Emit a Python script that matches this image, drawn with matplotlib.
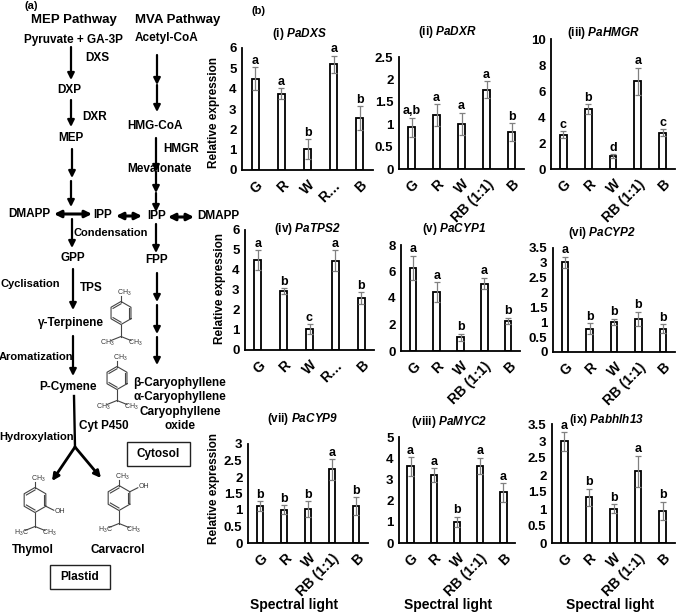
import numpy as np
import matplotlib
matplotlib.use('Agg')
import matplotlib.pyplot as plt
from matplotlib.patches import Rectangle
from matplotlib.transforms import ScaledTranslation

W, H = 676, 613
plt.rcParams['font.family'] = ['Liberation Sans', 'DejaVu Sans']
plt.rcParams['font.weight'] = 'bold'
plt.rcParams['mathtext.fontset'] = 'custom'
plt.rcParams['mathtext.bfit'] = 'Liberation Sans:italic:bold'
plt.rcParams['mathtext.default'] = 'regular'

full_labels = ['G', 'R', 'W', 'RB (1:1)', 'B']
short_labels = ['G', 'R', 'W', 'R…', 'B']

# expression values
dxs = [4.49, 3.75, 1.03, 5.2, 2.55]
dxs_err = [0.57, 0.28, 0.48, 0.43, 0.58]
dxs_let = ['a', 'a', 'b', 'a', 'b']
dxr = [0.93, 1.2, 1.01, 1.77, 0.82]
dxr_err = [0.21, 0.25, 0.25, 0.19, 0.2]
dxr_let = ['a,b', 'a', 'a', 'a', 'b']
hmgr = [2.65, 4.6, 1.0, 6.75, 2.8]
hmgr_err = [0.26, 0.38, 0.15, 1.05, 0.26]
hmgr_let = ['c', 'b', 'd', 'a', 'c']
tps2 = [4.5, 2.93, 1.03, 4.47, 2.58]
tps2_err = [0.48, 0.15, 0.25, 0.53, 0.3]
tps2_let = ['a', 'b', 'c', 'a', 'b']
cyp1 = [6.28, 4.43, 1.04, 5.09, 2.28]
cyp1_err = [0.91, 0.76, 0.25, 0.43, 0.23]
cyp1_let = ['a', 'a', 'b', 'a', 'b']
cyp2 = [3.02, 0.79, 1.02, 1.11, 0.78]
cyp2_err = [0.18, 0.17, 0.1, 0.24, 0.15]
cyp2_let = ['a', 'b', 'b', 'b', 'b']
cyp9 = [1.12, 1.01, 1.02, 2.23, 1.12]
cyp9_err = [0.14, 0.13, 0.24, 0.31, 0.27]
cyp9_let = ['b', 'b', 'b', 'a', 'b']
myc2 = [3.61, 3.21, 1.0, 3.64, 2.39]
myc2_err = [0.44, 0.32, 0.24, 0.38, 0.44]
myc2_let = ['a', 'a', 'b', 'a', 'a']
bhlh = [2.99, 1.34, 1.01, 2.11, 0.95]
bhlh_err = [0.27, 0.25, 0.13, 0.46, 0.27]
bhlh_let = ['a', 'b', 'b', 'a', 'b']

fig = plt.figure(figsize=(W / 100, H / 100), dpi=100)

# overlay in pixel coordinates for panel (a) and loose text
bg = fig.add_axes([0, 0, 1, 1])
bg.set_xlim(0, W)
bg.set_ylim(H, 0)
bg.axis('off')


def txt(x, y, s, size=8.5, **kw):
    bg.text(x, y, s, fontsize=size, ha='center', va='center', **kw)


def arrow(x0, y0, x1, y1, lw=1.6, style='-|>'):
    bg.annotate('', xy=(x1, y1), xytext=(x0, y0),
                arrowprops=dict(arrowstyle=style, color='k', lw=lw, shrinkA=0, shrinkB=0,
                                mutation_scale=10))


def molecule(cx, cy, top, bottom, oh=None, r=11.5, stem=10):
    # ring with methyl on top and isopropyl at the bottom
    ang = np.radians(np.arange(30, 390, 60))
    px = cx + r * np.cos(ang)
    py = cy + r * np.sin(ang)
    bg.plot(np.r_[px, px[0]], np.r_[py, py[0]], color='#444444', lw=0.8)
    for i in [1, 3, 5]:
        j = (i + 1) % 6
        bg.plot([cx + (px[i] - cx) * 0.8, cx + (px[j] - cx) * 0.8],
                [cy + (py[i] - cy) * 0.8, cy + (py[j] - cy) * 0.8], color='#444444', lw=0.8)
    bg.plot([cx, cx], [cy - r, cy - r - 6], color='#444444', lw=0.8)
    node = cy + r + stem
    bg.plot([cx, cx], [cy + r, node], color='#444444', lw=0.8)
    bg.plot([cx - 10, cx, cx + 10], [node + 4, node, node + 4], color='#444444', lw=0.8)
    txt(cx + 3, cy - r - 9, top, size=5, weight='normal', color='#333333')
    txt(cx - 14, node + 6, bottom[0], size=5, weight='normal', color='#333333')
    txt(cx + 14, node + 6, bottom[1], size=5, weight='normal', color='#333333')
    if oh is not None:
        bg.plot([px[oh], px[oh] + 8], [py[oh], py[oh] - 4 if oh == 5 else py[oh] + 4],
                color='#444444', lw=0.8)
        txt(px[oh] + 14, py[oh] - 5 if oh == 5 else py[oh] + 5, 'OH', size=5, weight='normal', color='#333333')


txt(31, 6, '(a)', size=8)
txt(258, 11, '(b)', size=8)
txt(74, 20, 'MEP Pathway', size=9.5)
txt(178, 20, 'MVA Pathway', size=9.5)
pathway_text = [(73, 40, 'Pyruvate + GA-3P'), (167, 38, 'Acetyl-CoA'), (97, 58, 'DXS'), (69, 90, 'DXP'),
                (95, 117, 'DXR'), (71, 138, 'MEP'), (155, 126, 'HMG-CoA'), (181, 149, 'HMGR'),
                (159, 169, 'Mevalonate'), (29, 214, 'DMAPP'), (103, 215, 'IPP'), (157, 216, 'IPP'),
                (218, 216, 'DMAPP'), (111, 233, 'Condensation'), (73, 258, 'GPP'), (157, 260, 'FPP'),
                (30, 284, 'Cyclisation'), (91, 288, 'TPS'), (71, 323, 'γ-Terpinene'),
                (36, 357, 'Aromatization'), (68, 387, 'P-Cymene'), (180, 383, 'β-Caryophyllene'),
                (180, 397, 'α-Caryophyllene'), (180, 412, 'Caryophyllene'), (180, 426, 'oxide'),
                (104, 426, 'Cyt P450'), (37, 437, 'Hydroxylation'), (33, 550, 'Thymol'), (118, 550, 'Carvacrol')]
for x, y, s in pathway_text:
    txt(x, y, s, size=8 if s in ('Condensation', 'Cyclisation', 'Aromatization', 'Hydroxylation') else 8.5)

down_arrows = [(71, 47, 80), (71, 100, 127), (72, 149, 178), (71, 181, 207), (157, 55, 85), (157, 85, 112),
               (156, 138, 172), (156, 172, 193), (156, 193, 212), (72, 219, 248), (156, 224, 253),
               (73, 269, 310), (157, 273, 302), (157, 305, 334), (157, 337, 365), (73, 336, 376)]
for x, y0, y1 in down_arrows:
    arrow(x, y0, x, y1)
arrow(54, 214, 92, 214, lw=2.2, style='<|-|>')
arrow(116, 216, 142, 216, lw=2.2, style='<|-|>')
arrow(168, 217, 194, 217, lw=2.2, style='<|-|>')
bg.plot([74, 75], [396, 447], color='k', lw=1.7)
arrow(75, 447, 52, 481, lw=2)
arrow(75, 447, 101, 478, lw=2)

molecule(121, 313, 'CH$_3$', ('CH$_3$', 'CH$_3$'), stem=12)
molecule(117, 378, 'CH$_3$', ('CH$_3$', 'CH$_3$'), stem=11)
molecule(35, 500, 'CH$_3$', ('H$_3$C', 'CH$_3$'), oh=0, r=12.5, stem=14)
molecule(119, 498, 'CH$_3$', ('H$_3$C', 'CH$_3$'), oh=5, r=12.5, stem=13)

for x0, y0, x1, y1, s in [(127, 442, 190, 466, 'Cytosol'), (50, 565, 110, 589, 'Plastid')]:
    bg.add_patch(Rectangle((x0, y0), x1 - x0, y1 - y0, fc='w', ec='#222222', lw=1))
    txt((x0 + x1) / 2, (y0 + y1) / 2, s, size=8.5)


def panel(box, vals, errs, lets, ymax, step, title, title_xy, labels, ylabel_xy=None):
    left, right, top, base = box
    ax = fig.add_axes([left / W, 1 - base / H, (right - left) / W, (base - top) / H])
    ax.patch.set_alpha(0)
    x = np.arange(5)
    ax.bar(x, vals, width=0.27, fc='w', ec='k', lw=1.3, zorder=2)
    ax.errorbar(x, vals, yerr=errs, fmt='none', ecolor='#808080', elinewidth=0.9, capsize=2.2,
                capthick=0.9, zorder=3)
    for i in range(5):
        ax.annotate(lets[i], (i, vals[i] + errs[i]), xytext=(0, 2.5), textcoords='offset points',
                    ha='center', va='baseline', fontsize=9, annotation_clip=False)
    ax.set_xlim(-0.5, 4.5)
    ax.set_ylim(0, ymax)
    yt = np.arange(0, ymax + step / 2, step)
    ax.set_yticks(yt)
    ax.set_yticklabels(['%g' % v for v in yt], fontsize=9.5)
    ax.set_xticks(x)
    ax.set_xticklabels(labels, fontsize=10, rotation=45, ha='right', va='top', rotation_mode='anchor')
    for t in ax.get_xticklabels():
        # truncated labels sit further right than the full ones
        dx = 10 if t.get_text().endswith('…') else -1.5
        t.set_transform(t.get_transform() + ScaledTranslation(dx / 72, 0, fig.dpi_scale_trans))
    ax.tick_params(length=0)
    ax.tick_params(axis='y', pad=4)
    ax.tick_params(axis='x', pad=6)
    ax.spines['top'].set_visible(False)
    ax.spines['right'].set_visible(False)
    ax.spines['left'].set_linewidth(1.3)
    ax.spines['bottom'].set_linewidth(1.3)
    txt(title_xy[0], title_xy[1], title, size=8.5)
    if ylabel_xy is not None:
        txt(ylabel_xy[0], ylabel_xy[1], 'Relative expression', size=8.5, rotation=90)


panel((242, 373, 48, 170), dxs, dxs_err, dxs_let, 6, 1, r'(i) $\mathbfit{PaDXS}$', (299, 34), short_labels, (214, 112))
panel((399, 524, 57, 169), dxr, dxr_err, dxr_let, 2.5, 0.5, r'(ii) $\mathbfit{PaDXR}$', (447, 32), full_labels)
panel((551, 675, 39, 169), hmgr, hmgr_err, hmgr_let, 10, 2, r'(iii) $\mathbfit{PaHMGR}$', (604, 33), full_labels)
panel((245, 374, 230, 350), tps2, tps2_err, tps2_let, 6, 1, r'(iv) $\mathbfit{PaTPS2}$', (307, 229), short_labels, (220, 289))
panel((401, 520, 245, 351), cyp1, cyp1_err, cyp1_let, 8, 2, r'(v) $\mathbfit{PaCYP1}$', (454, 229), full_labels)
panel((553, 675, 248, 352), cyp2, cyp2_err, cyp2_let, 3.5, 0.5, r'(vi) $\mathbfit{PaCYP2}$', (602, 233), full_labels)
panel((248, 368, 444, 543), cyp9, cyp9_err, cyp9_let, 3, 0.5, r'(vii) $\mathbfit{PaCYP9}$', (303, 419), full_labels, (214, 489))
panel((399, 515, 437, 543), myc2, myc2_err, myc2_let, 5, 1, r'(viii) $\mathbfit{PaMYC2}$', (449, 422), full_labels)
panel((552, 675, 424, 543), bhlh, bhlh_err, bhlh_let, 3.5, 0.5, r'(ix) $\mathbfit{Pabhlh13}$', (606, 420), full_labels)

for x in [294, 448, 610]:
    txt(x, 605, 'Spectral light', size=10)

fig.savefig('out.png', dpi=100)
